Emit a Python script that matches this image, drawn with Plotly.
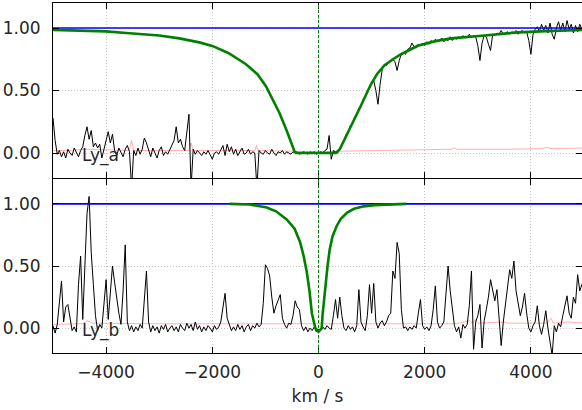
import plotly.graph_objects as go
from plotly.subplots import make_subplots

# ---------------- data ----------------
v_grid = list(range(-5000, 5001, 40))

flux_a = [
 0.28,0.10,-0.01,0.02,-0.03,0.01,-0.04,0.03,0.00,-0.02,
 0.04,0.01,-0.03,0.02,0.05,0.14,0.21,0.11,0.18,0.05,
 0.08,0.04,0.07,-0.04,0.03,0.09,0.17,0.08,0.15,0.02,
 -0.02,0.04,0.00,-0.03,0.03,0.06,0.01,-0.28,0.02,-0.02,
 0.04,-0.01,0.03,0.12,0.08,0.02,-0.03,0.04,0.00,-0.04,
 0.02,0.05,-0.02,0.01,-0.01,0.03,0.06,0.10,0.21,0.08,
 0.11,0.05,0.02,0.15,0.31,-0.28,0.03,-0.01,0.02,0.00,
 -0.02,0.01,-0.01,0.02,-0.02,-0.05,0.00,0.01,-0.01,0.02,
 0.06,-0.02,0.07,0.01,0.05,-0.01,0.03,-0.02,0.01,0.04,
 -0.01,0.00,0.03,-0.01,0.01,0.00,-0.28,0.02,0.00,-0.01,
 0.02,0.00,-0.01,0.03,0.00,-0.02,0.01,0.00,0.02,-0.01,
 0.01,0.00,-0.01,0.01,0.00,0.01,-0.01,0.00,0.01,0.00,
 -0.01,0.01,0.00,0.01,-0.01,0.00,0.01,0.00,0.02,0.03,
 0.14,-0.05,0.02,
 0.01,0.00,0.04,0.06,0.10,0.15,0.16,
 0.22,0.23,0.29,0.30,0.36,0.37,0.43,0.44,0.50,0.52,
 0.55,0.58,0.50,0.39,0.55,0.67,0.71,0.70,0.73,0.74,
 0.75,0.73,0.66,0.74,0.79,0.80,0.79,0.83,0.84,0.88,
 0.85,0.84,0.87,0.86,0.88,0.86,0.89,0.87,0.90,0.88,
 0.91,0.89,0.90,0.92,0.89,0.91,0.90,0.93,0.90,0.92,
 0.91,0.93,0.92,0.94,0.92,0.93,0.95,0.92,0.94,0.93,
 0.86,0.74,0.88,0.94,0.93,0.87,0.82,0.95,0.94,0.96,
 0.95,0.98,0.95,0.96,0.97,0.95,0.97,0.96,0.98,0.95,
 0.97,0.98,0.96,0.97,0.90,0.79,0.95,0.99,1.01,0.97,
 1.03,0.98,1.02,0.96,1.04,0.95,0.91,1.00,1.05,0.98,
 1.04,0.97,1.06,0.99,1.03,0.96,1.02,0.97,1.03,0.99,
 1.01]

flux_b = [
 0.02,-0.04,0.03,0.20,0.38,0.05,0.17,0.19,0.10,-0.02,
 0.01,-0.03,0.35,0.58,0.07,0.45,0.92,1.06,0.61,0.35,
 0.10,-0.02,0.03,0.00,0.20,0.39,0.07,0.30,0.50,0.37,
 0.23,0.12,0.03,0.30,0.67,0.05,-0.02,0.02,-0.03,0.01,
 -0.02,0.03,0.00,0.20,0.46,0.05,-0.03,0.02,-0.02,0.01,
 -0.04,0.02,-0.01,0.03,-0.03,0.00,0.02,-0.02,0.01,-0.03,
 0.03,0.00,-0.02,0.04,0.00,0.03,-0.02,0.05,-0.01,0.02,
 -0.03,0.01,-0.02,0.02,0.00,-0.03,0.02,-0.01,0.01,0.05,
 0.15,0.28,0.08,0.02,-0.02,0.01,-0.02,0.03,-0.01,0.02,
 -0.03,0.01,0.03,-0.02,0.02,0.00,0.04,0.01,0.03,0.20,
 0.51,0.48,0.42,0.25,0.12,0.18,0.22,0.27,0.08,0.03,
 0.00,0.04,0.03,0.10,0.22,0.17,0.15,0.02,-0.02,0.01,
 -0.03,0.00,-0.02,0.01,-0.03,-0.01,-0.02,0.01,-0.01,0.02,
 0.00,-0.01,0.10,0.23,0.08,0.25,0.10,0.00,-0.02,0.02,
 -0.01,0.01,-0.03,0.02,0.31,0.05,0.01,-0.02,0.10,0.35,
 0.12,0.36,0.05,0.00,0.04,0.06,0.02,0.05,0.10,0.12,
 0.46,0.40,0.69,0.60,0.15,0.00,0.01,-0.02,0.01,-0.01,
 0.02,0.00,0.12,0.23,0.02,-0.01,0.01,-0.02,0.02,0.15,
 0.34,0.05,0.00,0.02,0.05,0.30,0.50,0.30,0.15,0.02,
 -0.03,0.01,-0.08,0.03,0.00,0.03,0.18,0.46,-0.17,0.05,
 0.10,0.19,-0.16,0.06,0.15,0.25,0.39,0.30,0.22,0.31,
 0.08,-0.14,0.05,0.20,0.30,0.47,0.40,0.54,0.30,0.20,
 0.10,0.17,0.28,0.12,0.00,-0.03,0.02,0.05,0.18,0.02,
 -0.05,0.03,0.14,0.00,-0.10,-0.22,0.02,-0.03,0.04,0.01,
 0.10,0.18,0.26,0.12,0.08,0.25,0.20,0.43,0.30,0.35,
 0.40]

err_a_v = [-5000,-4700,-4400,-3560,-3520,-3480,-2440,-2400,-2360,-1200,-1170,-1140,
           -500,0,500,1000,2000,2500,2550,2600,3500,4200,4300,4400,5000]
err_a_f = [0.02,0.02,0.03,0.02,0.10,0.02,0.02,0.08,0.02,0.02,0.06,0.02,
           0.015,0.01,0.015,0.02,0.025,0.03,0.04,0.03,0.03,0.035,0.045,0.035,0.04]

err_b_v = [-5000,-4450,-4350,-4250,-3000,0,2600,2850,2900,2950,3000,3500,3560,
           4300,4380,4420,4700,5000]
err_b_f = [0.03,0.035,0.06,0.04,0.035,0.035,0.035,0.06,0.04,0.07,0.04,0.05,0.04,
           0.04,0.08,0.04,0.05,0.04]

model_a_v = [-5000,-4000,-3620,-3000,-2620,-2245,-2000,-1700,-1365,-1150,-990,-860,
             -735,-600,-450,-420,0,330,400,610,800,987,1100,1240,1400,1555,1868,
             2200,2497,3126,3755,4400,5000]
model_a_f = [0.985,0.973,0.96,0.94,0.917,0.885,0.857,0.80,0.71,0.63,0.535,0.43,
             0.32,0.18,0.01,0.0,0.0,0.0,0.03,0.21,0.38,0.55,0.63,0.70,0.75,0.79,0.858,
             0.895,0.917,0.94,0.965,0.977,0.985]

model_b_v = [-1670,-1300,-975,-800,-600,-450,-345,-280,-220,-170,-125,-60,0,60,75,
             120,170,210,265,340,420,540,670,850,1050,1650]
model_b_f = [1.0,0.995,0.97,0.94,0.875,0.80,0.69,0.58,0.45,0.30,0.12,0.0,-0.03,0.0,0.10,
             0.30,0.50,0.63,0.74,0.82,0.88,0.93,0.96,0.98,0.99,1.0]

cont_v = [-5000, 5000]
cont_f = [1.0, 1.0]

labels = ["Ly_a", "Ly_b"]
x_ticks = [-4000, -2000, 0, 2000, 4000]
y_ticks = [0.0, 0.5, 1.0]

assert len(flux_a) == len(v_grid) and len(flux_b) == len(v_grid)

# ---------------- figure ----------------
fig = make_subplots(rows=2, cols=1, shared_xaxes=True, vertical_spacing=0)

panels = [
    (flux_a, err_a_v, err_a_f, model_a_v, model_a_f),
    (flux_b, err_b_v, err_b_f, model_b_v, model_b_f),
]
for r, (fl, ev, ef, mv, mf) in enumerate(panels, start=1):
    fig.add_trace(go.Scatter(x=ev, y=ef, mode="lines",
                             line=dict(color="rgba(255,80,80,0.45)", width=1)), row=r, col=1)
    fig.add_trace(go.Scatter(x=v_grid, y=fl, mode="lines",
                             line=dict(color="black", width=1)), row=r, col=1)
    fig.add_trace(go.Scatter(x=cont_v, y=cont_f, mode="lines",
                             line=dict(color="#0000ff", width=1.6)), row=r, col=1)
    fig.add_trace(go.Scatter(x=mv, y=mf, mode="lines",
                             line=dict(color="#008000", width=2.6)), row=r, col=1)

font_family = "DejaVu Sans"
axis_common = dict(showline=True, linecolor="black", linewidth=1, mirror="ticks",
                   ticks="inside", ticklen=6, tickcolor="black", tickwidth=1,
                   showgrid=True, gridcolor="#c4c4c4", griddash="1px,2px", gridwidth=1,
                   zeroline=False,
                   tickfont=dict(family=font_family, size=17, color="#262626"))

for r in (1, 2):
    fig.update_xaxes(range=[-5000, 4962], tickvals=x_ticks, row=r, col=1, **axis_common)
    fig.update_yaxes(range=[-0.2, 1.2], tickvals=y_ticks, tickformat=".2f",
                     ticklabelstandoff=8, row=r, col=1, **axis_common)
    fig.add_shape(type="line", x0=0, x1=0, y0=0, y1=1,
                  xref="x" if r == 1 else "x2",
                  yref="y domain" if r == 1 else "y2 domain",
                  line=dict(color="#008000", width=1, dash="3px,2px"))
    fig.add_annotation(x=-4500, y=-0.02, xref="x" if r == 1 else "x2",
                       yref="y" if r == 1 else "y2", text=labels[r - 1],
                       showarrow=False, xanchor="left", yanchor="middle",
                       font=dict(family=font_family, size=17, color="#262626"))

# make the two panel borders coincide on one pixel row
fig.update_yaxes(domain=[0.5, 1.0], row=1, col=1)
fig.update_yaxes(domain=[0.0, 174.0 / 350.0], row=2, col=1)

fig.update_xaxes(showticklabels=False, row=1, col=1)
fig.update_xaxes(title=dict(text="km / s", standoff=8,
                            font=dict(family=font_family, size=17, color="#262626")),
                 ticklabelstandoff=4, row=2, col=1)

fig.update_layout(width=582, height=410, showlegend=False,
                  margin=dict(l=53, r=0, t=3, b=57),
                  plot_bgcolor="white", paper_bgcolor="white",
                  font=dict(family=font_family))

fig.write_html("out.html")
